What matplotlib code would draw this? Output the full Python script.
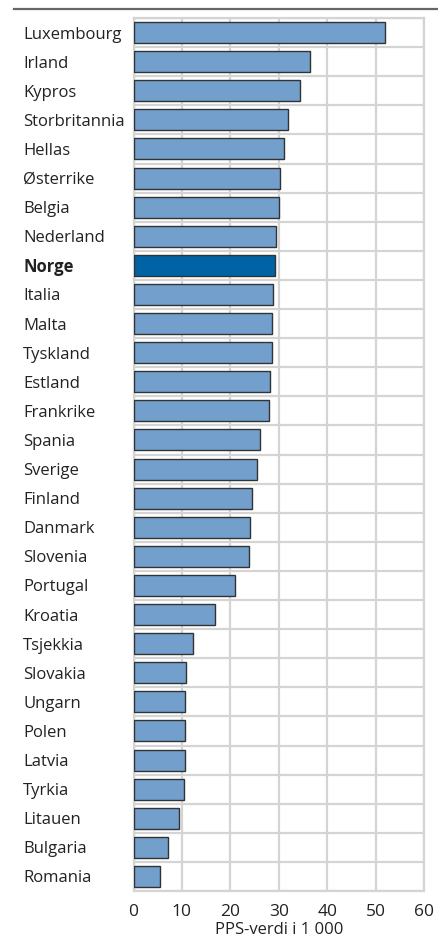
import numpy as np
import matplotlib.pyplot as plt
from matplotlib.lines import Line2D

countries = ["Luxembourg", "Irland", "Kypros", "Storbritannia", "Hellas", "Østerrike",
             "Belgia", "Nederland", "Norge", "Italia", "Malta", "Tyskland", "Estland",
             "Frankrike", "Spania", "Sverige", "Finland", "Danmark", "Slovenia",
             "Portugal", "Kroatia", "Tsjekkia", "Slovakia", "Ungarn", "Polen", "Latvia",
             "Tyrkia", "Litauen", "Bulgaria", "Romania"]
values = [52.0, 36.4, 34.3, 32.0, 31.0, 30.2, 30.1, 29.4, 29.2, 28.9, 28.7, 28.6, 28.2,
          28.0, 26.1, 25.6, 24.4, 24.1, 23.8, 20.9, 16.9, 12.3, 10.8, 10.7, 10.6, 10.6,
          10.4, 9.4, 7.1, 5.4]
xticks = [0, 10, 20, 30, 40, 50, 60]
highlight = "Norge"

plt.rcParams['font.family'] = ['Open Sans', 'DejaVu Sans']

W, H = 438, 939
fig = plt.figure(figsize=(W/100, H/100), dpi=100)
ax = fig.add_axes([133.5/W, 1-891/H, (424-133.5)/W, (891-18)/H])

y = np.arange(len(countries))
colors = ["#0063a6" if c == highlight else "#729fcb" for c in countries]
ax.barh(y, values, height=0.72, color=colors, edgecolor="#333333", linewidth=1.0, zorder=3)

ax.set_xlim(0, 60)
ax.set_ylim(len(countries)-0.5, -0.5)
ax.set_xticks(xticks)
ax.set_xticklabels([str(t) for t in xticks], fontsize=12.5, color="#222222")
ax.set_yticks(y)
ax.set_yticklabels(countries, fontsize=12, color="#222222", ha="left")
ax.set_yticks(np.arange(len(countries)+1)-0.5, minor=True)
ax.tick_params(axis="y", which="major", length=0, pad=79.5)
ax.tick_params(axis="y", which="minor", length=0)
ax.tick_params(axis="x", length=0, pad=9)
for lab in ax.get_yticklabels():
    if lab.get_text() == highlight:
        lab.set_fontweight("bold")

ax.grid(axis="x", which="major", color="#d4d4d4", linewidth=1.6, zorder=0)
ax.grid(axis="y", which="minor", color="#d4d4d4", linewidth=1.6, zorder=0)
for s in ax.spines.values():
    s.set_color("#d4d4d4")
    s.set_linewidth(1.6)

ax.set_xlabel("PPS-verdi i 1 000", fontsize=12, color="#222222", labelpad=2)

fig.add_artist(Line2D([14/W, 1], [1-8.5/H, 1-8.5/H], color="#666666", linewidth=1.6))

fig.savefig("out.png", dpi=100)
